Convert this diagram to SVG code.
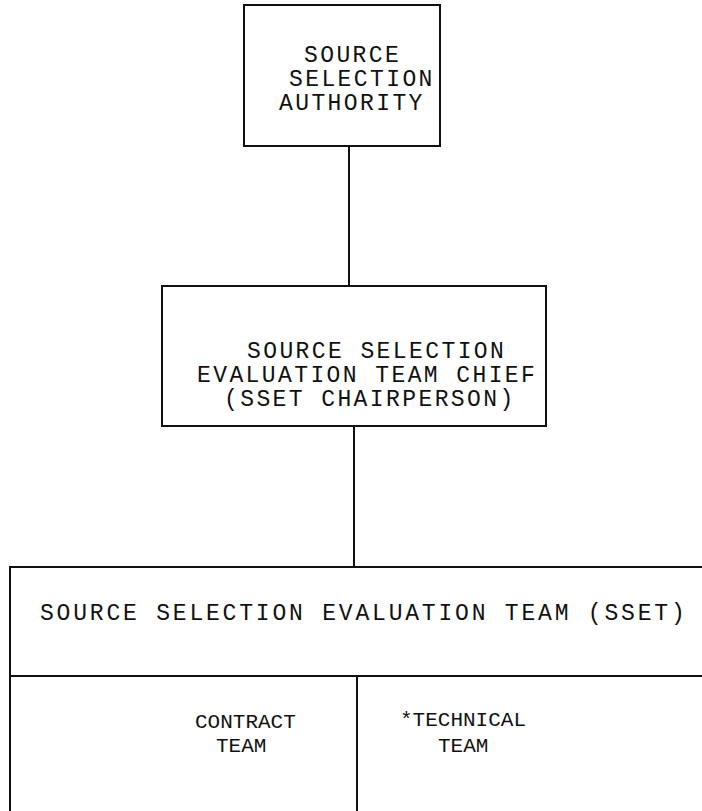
<svg xmlns="http://www.w3.org/2000/svg" width="702" height="811" viewBox="0 0 702 811">
<style>
.box{fill:none;stroke:#111;stroke-width:2}
.ln{stroke:#111;stroke-width:2;fill:none}
.t{font-family:"Liberation Mono","DejaVu Sans Mono",monospace;font-size:23px;letter-spacing:2.4px;fill:#111}
.w{letter-spacing:2.8px}
.s{font-family:"Liberation Mono","DejaVu Sans Mono",monospace;font-size:21px;fill:#111}
</style>
<rect width="702" height="811" fill="#fff"/>
<g id="connectors">
<line class="ln" x1="349" y1="146" x2="349" y2="286"/>
<line class="ln" x1="354" y1="426" x2="354" y2="567"/>
</g>
<g id="ssa">
<rect class="box" x="244" y="5" width="196" height="141"/>
<text class="t" x="304" y="62">SOURCE</text>
<text class="t" x="289" y="86">SELECTION</text>
<text class="t" x="279" y="110">AUTHORITY</text>
</g>
<g id="chief">
<rect class="box" x="162" y="286" width="384" height="140"/>
<text class="t" x="247" y="358">SOURCE SELECTION</text>
<text class="t" x="197" y="382">EVALUATION TEAM CHIEF</text>
<text class="t" x="224" y="406">(SSET CHAIRPERSON)</text>
</g>
<g id="sset">
<path class="box" d="M10,811 V567 H702"/>
<line class="ln" x1="10" y1="676" x2="702" y2="676"/>
<text class="t w" x="40" y="620">SOURCE SELECTION EVALUATION TEAM (SSET)</text>
</g>
<g id="contract">
<line class="ln" x1="357" y1="676" x2="357" y2="811"/>
<text class="s" x="195" y="728">CONTRACT</text>
<text class="s" x="216" y="752">TEAM</text>
</g>
<g id="technical">
<text class="s" x="400" y="726">*TECHNICAL</text>
<text class="s" x="438" y="752">TEAM</text>
</g>
</svg>
